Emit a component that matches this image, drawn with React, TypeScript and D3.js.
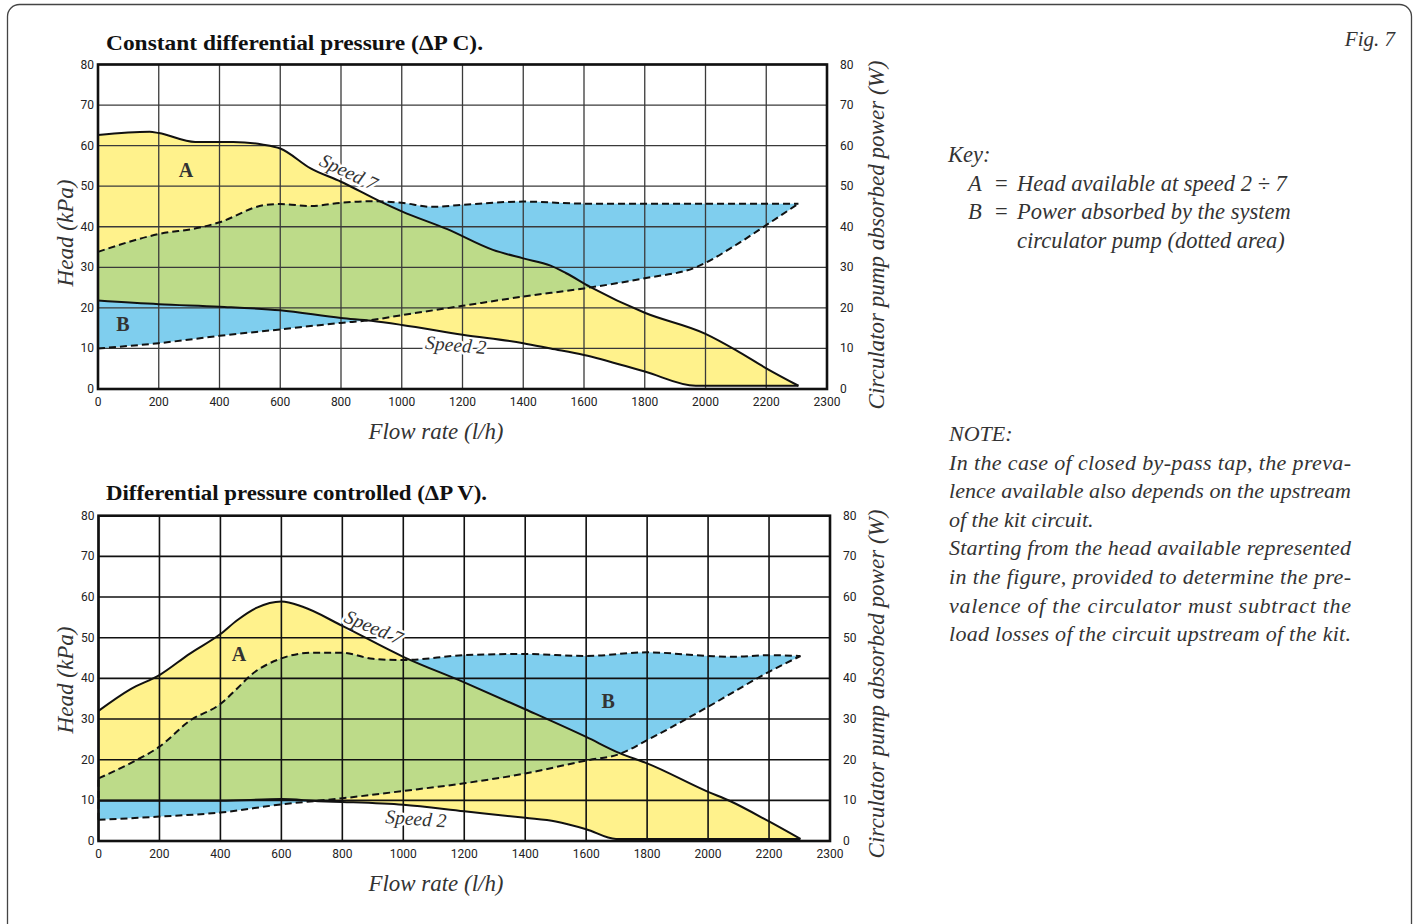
import React from 'react';
import * as d3 from 'd3';

type P = [number, number];

// ---------- Data (flow l/h, head kPa / power W) ----------
// Chart 1: Constant differential pressure (ΔP C)
const topSpeed7: P[] = [[0, 62.6], [170, 63.4], [200, 63.1], [320, 60.9], [445, 60.9], [540, 60.3], [600, 59.3], [700, 54.4], [800, 51.1], [930, 46.2], [1000, 43.8], [1150, 39.4], [1300, 34.3], [1400, 32.2], [1490, 30.4], [1540, 28.6], [1620, 25.2], [1800, 18.8], [2000, 13.6], [2100, 9.6], [2200, 5.1], [2306, 0.8]];
const topSpeed2: P[] = [[0, 21.8], [200, 20.9], [400, 20.3], [600, 19.4], [800, 17.5], [900, 16.8], [1000, 15.8], [1200, 13.4], [1400, 11.3], [1490, 10.0], [1600, 8.4], [1800, 4.3], [1968, 0.8], [2306, 0.8]];
const topPowerMax: P[] = [[0, 33.8], [200, 38.2], [335, 39.8], [400, 41.1], [545, 45.3], [600, 45.6], [700, 45.1], [800, 45.9], [900, 46.3], [1000, 45.9], [1100, 44.9], [1200, 45.4], [1400, 46.2], [1600, 45.7], [2000, 45.7], [2306, 45.7]];
const topPowerMin: P[] = [[0, 10.0], [200, 11.3], [400, 13.1], [600, 14.7], [800, 16.3], [900, 17.0], [1000, 18.2], [1200, 20.5], [1400, 22.8], [1600, 24.8], [1800, 27.3], [1968, 30.0], [2100, 35.5], [2200, 40.4], [2306, 45.7]];

// Chart 2: Differential pressure controlled (ΔP V)
const botSpeed7: P[] = [[0, 32.0], [104, 37.3], [200, 40.8], [300, 46.1], [400, 50.9], [455, 54.3], [520, 57.4], [600, 58.9], [670, 57.6], [800, 52.9], [1000, 45.3], [1200, 39.0], [1400, 32.4], [1600, 25.6], [1710, 21.6], [1800, 19.1], [2000, 12.1], [2070, 9.9], [2200, 4.8], [2303, 0.5]];
const botSpeed2: P[] = [[0, 9.9], [400, 9.9], [600, 10.3], [720, 9.8], [800, 9.6], [1000, 8.9], [1200, 7.3], [1400, 5.7], [1500, 4.8], [1600, 2.9], [1698, 0.5], [2303, 0.5]];
const botPowerMax: P[] = [[0, 15.4], [104, 19.1], [200, 23.2], [300, 29.6], [400, 33.7], [455, 37.5], [500, 40.8], [600, 44.9], [700, 46.3], [800, 46.3], [900, 44.8], [1000, 44.5], [1200, 45.7], [1400, 46.0], [1600, 45.5], [1800, 46.4], [2000, 45.5], [2080, 45.3], [2200, 45.7], [2303, 45.5]];
const botPowerMin: P[] = [[0, 5.2], [200, 6.0], [400, 7.0], [600, 9.0], [800, 10.5], [1000, 12.3], [1200, 14.2], [1400, 16.6], [1600, 19.8], [1710, 21.4], [1800, 24.8], [2000, 33.0], [2200, 41.6], [2303, 45.5]];

// Axes
const xTickValues = [0, 200, 400, 600, 800, 1000, 1200, 1400, 1600, 1800, 2000, 2200, 2400];
const xTickLabels = ['0', '200', '400', '600', '800', '1000', '1200', '1400', '1600', '1800', '2000', '2200', '2300'];
const yTickValues = [0, 10, 20, 30, 40, 50, 60, 70, 80];

const keyLines = ['A', 'B'];
const keyTexts = [['Head available at speed 2 ÷ 7'], ['Power absorbed by the system', 'circulator pump (dotted area)']];
const noteLines: [string, boolean][] = [
  ['In the case of closed by-pass tap, the preva-', true],
  ['lence available also depends on the upstream', true],
  ['of the kit circuit.', false],
  ['Starting from the head available represented', true],
  ['in the figure, provided to determine the pre-', true],
  ['valence of the circulator must subtract the', true],
  ['load losses of the circuit upstream of the kit.', true],
];

const YELLOW = '#FFF28C';
const BLUE = '#7FCEEE';
const GREEN = '#BDDB89';
const SERIF = '"Liberation Serif", "Times New Roman", serif';
const SANS = 'Roboto, "Noto Sans", sans-serif';

type Box = { l: number; r: number; t: number; b: number };
type Lbl = { text: string; x: number; y: number; rot: number };

function Chart(props: {
  id: string; box: Box; title: string; titleY: number; titleW: number; headY: number; powerY: number;
  s7: P[]; s2: P[]; pMax: P[]; pMin: P[];
  gridColor: string; gridWidth: number;
  speed7: Lbl; speed2: Lbl; a: [number, number]; b: [number, number];
}) {
  const { id, box, s7, s2, pMax, pMin } = props;
  const x = d3.scaleLinear().domain([0, 2400]).range([box.l, box.r]);
  const y = d3.scaleLinear().domain([0, 80]).range([box.b, box.t]);
  const line = d3.line<P>().x(d => x(d[0])).y(d => y(d[1])).curve(d3.curveMonotoneX);
  const closed = (a: P[], b: P[]) => (line(a) as string) + (line([...b].reverse()) as string).replace(/^M/, 'L') + 'Z';
  const aPath = closed(s7, s2);
  const bPath = closed(pMax, pMin);
  const halo = { stroke: '#fff', strokeWidth: 5, paintOrder: 'stroke' as const, strokeLinejoin: 'round' as const };
  const sp = (l: Lbl) => (
    <text x={x(l.x)} y={y(l.y)} transform={`rotate(${l.rot} ${x(l.x)} ${y(l.y)})`} fontFamily={SERIF} fontStyle="italic" fontSize={19.5} fill="#333" {...halo}>{l.text}</text>
  );
  return (
    <g>
      <defs>
        <clipPath id={`clipA-${id}`}><path d={aPath} /></clipPath>
      </defs>
      <text x={106} y={props.titleY} fontFamily={SERIF} fontWeight="bold" fontSize={22} fill="#111" textLength={props.titleW} lengthAdjust="spacingAndGlyphs">{props.title}</text>
      <path d={aPath} fill={YELLOW} />
      <path d={bPath} fill={BLUE} />
      <path d={bPath} fill={GREEN} clipPath={`url(#clipA-${id})`} />
      {xTickValues.map(v => (
        <line key={'gx' + v} x1={x(v)} x2={x(v)} y1={box.t} y2={box.b} stroke={props.gridColor} strokeWidth={props.gridWidth} />
      ))}
      {yTickValues.map(v => (
        <line key={'gy' + v} x1={box.l} x2={box.r} y1={y(v)} y2={y(v)} stroke={props.gridColor} strokeWidth={props.gridWidth} />
      ))}
      {sp(props.speed7)}
      {sp(props.speed2)}
      <path d={line(s7) as string} fill="none" stroke="#111" strokeWidth={2} />
      <path d={line(s2) as string} fill="none" stroke="#111" strokeWidth={2} />
      <path d={line(pMax) as string} fill="none" stroke="#111" strokeWidth={2} strokeDasharray="7,4" />
      <path d={line(pMin) as string} fill="none" stroke="#111" strokeWidth={2} strokeDasharray="7,4" />
      <line x1={x(0)} x2={x(0)} y1={y(pMin[0][1])} y2={y(pMax[0][1])} stroke="#111" strokeWidth={2} strokeDasharray="7,4" />
      <rect x={box.l} y={box.t} width={box.r - box.l} height={box.b - box.t} fill="none" stroke="#111" strokeWidth={2.6} />
      <text x={x(props.a[0])} y={y(props.a[1])} textAnchor="middle" fontFamily={SERIF} fontWeight="bold" fontSize={20} fill="#333">A</text>
      <text x={x(props.b[0])} y={y(props.b[1])} textAnchor="middle" fontFamily={SERIF} fontWeight="bold" fontSize={20} fill="#333">B</text>
      {yTickValues.map(v => (
        <text key={'ly' + v} x={box.l - 4} y={y(v) + 4} textAnchor="end" fontFamily={SANS} fontSize={12} fill="#222">{v}</text>
      ))}
      {yTickValues.map(v => (
        <text key={'ry' + v} x={box.r + 13} y={y(v) + 4} textAnchor="start" fontFamily={SANS} fontSize={12} fill="#222">{v}</text>
      ))}
      {xTickValues.map((v, i) => (
        <text key={'lx' + v} x={x(v)} y={box.b + 17} textAnchor="middle" fontFamily={SANS} fontSize={12} fill="#222">{xTickLabels[i]}</text>
      ))}
      <text transform={`translate(73 ${props.headY}) rotate(-90)`} textAnchor="middle" fontFamily={SERIF} fontStyle="italic" fontSize={23} fill="#333" textLength={107} lengthAdjust="spacingAndGlyphs">Head (kPa)</text>
      <text transform={`translate(884 ${props.powerY}) rotate(-90)`} textAnchor="middle" fontFamily={SERIF} fontStyle="italic" fontSize={23} fill="#333" textLength={349} lengthAdjust="spacingAndGlyphs">Circulator pump absorbed power (W)</text>
      <text x={436} y={box.b + 50} textAnchor="middle" fontFamily={SERIF} fontStyle="italic" fontSize={23} fill="#333" textLength={135} lengthAdjust="spacingAndGlyphs">Flow rate (l/h)</text>
    </g>
  );
}

export default function App() {
  return (
    <svg width={1415} height={924} style={{ position: 'absolute', left: 0, top: 0, background: '#fff' }}>
      <rect x={7.5} y={4.5} width={1404} height={935} rx={12} fill="#fff" stroke="#444" strokeWidth={1.3} />
      <Chart id="top" box={{ l: 98, r: 827, t: 64.5, b: 389 }} title="Constant differential pressure (ΔP C)." titleY={50} titleW={377} headY={233} powerY={235}
        s7={topSpeed7} s2={topSpeed2} pMax={topPowerMax} pMin={topPowerMin}
        gridColor="#3a3a3a" gridWidth={1.3}
        speed7={{ text: 'Speed 7', x: 725, y: 55.2, rot: 25 }} speed2={{ text: 'Speed 2', x: 1076, y: 9.9, rot: 5 }}
        a={[290, 52.3]} b={[82, 14.3]} />
      <Chart id="bot" box={{ l: 98.5, r: 830, t: 515.7, b: 841 }} title="Differential pressure controlled (ΔP V)." titleY={500} titleW={381} headY={680} powerY={684}
        s7={botSpeed7} s2={botSpeed2} pMax={botPowerMax} pMin={botPowerMin}
        gridColor="#111" gridWidth={1.6}
        speed7={{ text: 'Speed 7', x: 802, y: 54.0, rot: 23 }} speed2={{ text: 'Speed 2', x: 940, y: 4.4, rot: 4 }}
        a={[461, 44.3]} b={[1672, 32.7]} />
      <text x={1395} y={46} textAnchor="end" fontFamily={SERIF} fontStyle="italic" fontSize={21} fill="#333">Fig. 7</text>
      <g fontFamily={SERIF} fontStyle="italic" fontSize={22.5} fill="#333">
        <text x={948} y={162}>Key:</text>
        {keyLines.map((k, i) => (
          <g key={k}>
            <text x={968} y={190.5 + i * 28.5}>{k}</text>
            <text x={995} y={190.5 + i * 28.5} fontStyle="normal">=</text>
            {keyTexts[i].map((t, j) => (
              <text key={j} x={1017} y={190.5 + (i + j) * 28.5}>{t}</text>
            ))}
          </g>
        ))}
        <g fontSize={22}>
          <text x={949} y={441}>NOTE:</text>
          {noteLines.map(([t, just], i) => (
            <text key={i} x={949} y={469.5 + i * 28.6} textLength={just ? 402 : undefined} lengthAdjust="spacing">{t}</text>
          ))}
        </g>
      </g>
    </svg>
  );
}
